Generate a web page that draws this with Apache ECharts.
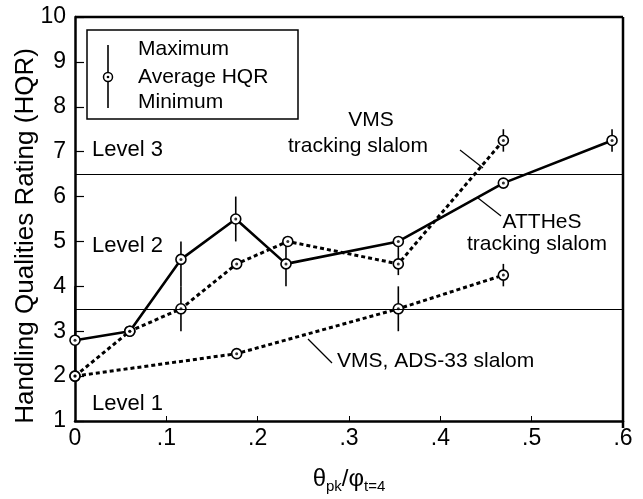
<!DOCTYPE html>
<html>
<head>
<meta charset="utf-8">
<script src="https://cdn.jsdelivr.net/npm/echarts@6/dist/echarts.min.js"></script>
<style>
html,body{margin:0;padding:0;background:#fff;}
#c{width:643px;height:499px;}
</style>
</head>
<body>
<div id="c"></div>
<script>
// ---- data ----
const xTickLabels = ['0', '.1', '.2', '.3', '.4', '.5', '.6'];
const levelBounds = [3.5, 6.5];

const atthesX = [0, 0.06, 0.116, 0.176, 0.231, 0.354, 0.469, 0.588];
const atthesY = [2.8, 3.0, 4.6, 5.5, 4.5, 5.0, 6.3, 7.25];

const vmsTrackX = [0, 0.06, 0.116, 0.177, 0.233, 0.354, 0.469];
const vmsTrackY = [2.0, 3.0, 3.5, 4.5, 5.0, 4.5, 7.25];

const vmsAdsX = [0, 0.177, 0.354, 0.469];
const vmsAdsY = [2.0, 2.5, 3.5, 4.25];

const barX   = [0,   0.116, 0.116, 0.176, 0.231, 0.354, 0.354, 0.469, 0.469, 0.588];
const barMin = [2.0, 4.0,   3.0,   5.0,   4.0,   4.25,  3.0,   7.0,   4.0,   7.0];
const barMax = [4.0, 5.0,   4.0,   6.0,   5.0,   5.0,   4.0,   7.5,   4.5,   7.5];

// ---- chart ----
const FONT = 'Liberation Sans, Arial, Helvetica, sans-serif';
const zip = (xs, ys) => xs.map((x, i) => [x, ys[i]]);
const chart = echarts.init(document.getElementById('c'), null, {renderer: 'canvas'});

const markerStyle = {color: '#fff', borderColor: '#000', borderWidth: 1.6};
function lineSeries(name, xs, ys, dotted) {
  return {
    name: name, type: 'line', data: zip(xs, ys),
    symbol: 'circle', symbolSize: 10, itemStyle: markerStyle,
    lineStyle: dotted ? {color: '#000', width: 3, type: [4, 3], cap: 'butt'} : {color: '#000', width: 2.6},
    z: 3, silent: true, animation: false
  };
}
function dotSeries(xs, ys) {
  return {
    type: 'scatter', data: zip(xs, ys), symbol: 'circle', symbolSize: 3,
    itemStyle: {color: '#000'}, z: 5, silent: true, animation: false
  };
}

const option = {
  backgroundColor: '#fff',
  animation: false,
  grid: {left: 75, right: 20, top: 17, bottom: 71},
  xAxis: {
    type: 'value', min: 0, max: 0.6, interval: 0.1,
    axisLine: {show: true, onZero: false, lineStyle: {color: '#000', width: 2.5}},
    axisTick: {show: true, inside: true, length: 5, lineStyle: {color: '#000', width: 1}},
    splitLine: {show: false},
    axisLabel: {
      color: '#000', fontFamily: FONT, fontSize: 23, margin: 6,
      formatter: (v) => xTickLabels[Math.round(v * 10)]
    },
    name: '{t|θ}{s|pk}{t|/φ}{s|t=4}',
    nameLocation: 'middle', nameGap: 44,
    nameTextStyle: {
      color: '#000', fontFamily: FONT,
      rich: {
        t: {fontSize: 24, fontFamily: FONT, color: '#000'},
        s: {fontSize: 15, fontFamily: FONT, color: '#000', verticalAlign: 'bottom', padding: [14, 0, 0, 0]}
      }
    }
  },
  yAxis: {
    type: 'value', min: 1, max: 10, interval: 1,
    axisLine: {show: true, onZero: false, lineStyle: {color: '#000', width: 2.5}},
    axisTick: {show: true, inside: true, length: 9, lineStyle: {color: '#000', width: 1.2}},
    splitLine: {show: false},
    axisLabel: {color: '#000', fontFamily: FONT, fontSize: 23, margin: 9}
  },
  series: [
    {
      type: 'line', data: [], silent: true,
      markLine: {
        silent: true, symbol: ['none', 'none'], label: {show: false},
        lineStyle: {color: '#000', width: 1.2, type: 'solid'},
        data: levelBounds.map(v => ({yAxis: v}))
      }
    },
    {
      type: 'custom', silent: true, z: 2,
      data: barX.map((x, i) => [x, barMin[i], barMax[i]]),
      renderItem: function (params, api) {
        const p1 = api.coord([api.value(0), api.value(1)]);
        const p2 = api.coord([api.value(0), api.value(2)]);
        return {
          type: 'line',
          shape: {x1: p1[0], y1: p1[1], x2: p2[0], y2: p2[1]},
          style: {stroke: '#000', lineWidth: 1.6}
        };
      }
    },
    lineSeries('ATTHeS tracking slalom', atthesX, atthesY, false),
    lineSeries('VMS tracking slalom', vmsTrackX, vmsTrackY, true),
    lineSeries('VMS, ADS-33 slalom', vmsAdsX, vmsAdsY, true),
    dotSeries(atthesX, atthesY),
    dotSeries(vmsTrackX, vmsTrackY),
    dotSeries(vmsAdsX, vmsAdsY)
  ],
  graphic: [
    // y axis title
    {type: 'text', x: 26, y: 236, rotation: Math.PI / 2,
     style: {text: 'Handling Qualities Rating (HQR)', font: '26px ' + FONT, fill: '#000', textAlign: 'center', textVerticalAlign: 'middle'}},
    // legend box
    {type: 'rect', shape: {x: 87, y: 30, width: 211, height: 89}, style: {fill: '#fff', stroke: '#000', lineWidth: 1.5}, z: 10},
    {type: 'line', shape: {x1: 108, y1: 45, x2: 108, y2: 108}, style: {stroke: '#000', lineWidth: 1.6}, z: 11},
    {type: 'circle', shape: {cx: 108, cy: 77, r: 4.5}, style: {fill: '#fff', stroke: '#000', lineWidth: 1.5}, z: 12},
    {type: 'circle', shape: {cx: 108, cy: 77, r: 1.3}, style: {fill: '#000'}, z: 13},
    {type: 'text', x: 138, y: 49, style: {text: 'Maximum', font: '21px ' + FONT, fill: '#000', textVerticalAlign: 'middle'}, z: 11},
    {type: 'text', x: 138, y: 77, style: {text: 'Average HQR', font: '21px ' + FONT, fill: '#000', textVerticalAlign: 'middle'}, z: 11},
    {type: 'text', x: 138, y: 102, style: {text: 'Minimum', font: '21px ' + FONT, fill: '#000', textVerticalAlign: 'middle'}, z: 11},
    // level labels
    {type: 'text', x: 92, y: 150, style: {text: 'Level 3', font: '22px ' + FONT, fill: '#000', textVerticalAlign: 'middle'}},
    {type: 'text', x: 92, y: 246, style: {text: 'Level 2', font: '22px ' + FONT, fill: '#000', textVerticalAlign: 'middle'}},
    {type: 'text', x: 92, y: 404, style: {text: 'Level 1', font: '22px ' + FONT, fill: '#000', textVerticalAlign: 'middle'}},
    // annotations
    {type: 'text', x: 371, y: 120, style: {text: 'VMS', font: '21px ' + FONT, fill: '#000', textAlign: 'center', textVerticalAlign: 'middle'}},
    {type: 'text', x: 358, y: 146, style: {text: 'tracking slalom', font: '21px ' + FONT, fill: '#000', textAlign: 'center', textVerticalAlign: 'middle'}},
    {type: 'line', shape: {x1: 460, y1: 150, x2: 483, y2: 168}, style: {stroke: '#000', lineWidth: 1.2}},
    {type: 'text', x: 542, y: 222, style: {text: 'ATTHeS', font: '21px ' + FONT, fill: '#000', textAlign: 'center', textVerticalAlign: 'middle'}},
    {type: 'text', x: 537, y: 244, style: {text: 'tracking slalom', font: '21px ' + FONT, fill: '#000', textAlign: 'center', textVerticalAlign: 'middle'}},
    {type: 'line', shape: {x1: 478, y1: 198, x2: 501, y2: 216}, style: {stroke: '#000', lineWidth: 1.2}},
    {type: 'text', x: 337, y: 361, style: {text: 'VMS, ADS-33 slalom', font: '21px ' + FONT, fill: '#000', textVerticalAlign: 'middle'}},
    {type: 'line', shape: {x1: 308, y1: 339, x2: 332, y2: 363}, style: {stroke: '#000', lineWidth: 1.2}},
    // frame top and right
    {type: 'line', shape: {x1: 75, y1: 17, x2: 623, y2: 17}, style: {stroke: '#000', lineWidth: 2.5}},
    {type: 'line', shape: {x1: 623, y1: 17, x2: 623, y2: 428}, style: {stroke: '#000', lineWidth: 2.5}}
  ]
};
chart.setOption(option);
</script>
</body>
</html>
